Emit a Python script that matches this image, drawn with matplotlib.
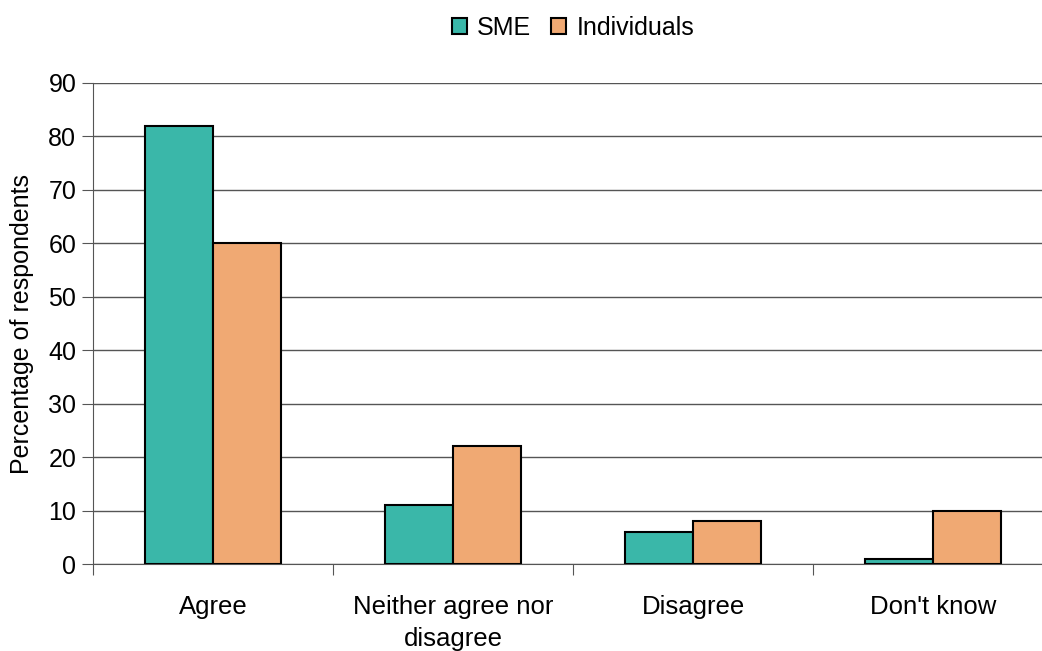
import matplotlib
matplotlib.use('Agg')
import matplotlib.pyplot as plt
import numpy as np

categories = ["Agree", "Neither agree nor\ndisagree", "Disagree", "Don't know"]
sme = [82, 11, 6, 1]
individuals = [60, 22, 8, 10]
yticks = [0, 10, 20, 30, 40, 50, 60, 70, 80, 90]

plt.rcParams['font.family'] = ['Liberation Sans', 'DejaVu Sans']

fig = plt.figure(figsize=(10.42, 6.51), dpi=100)
ax = fig.add_axes([93 / 1042, 87 / 651, 960 / 1042, 481 / 651])

x = np.arange(len(categories))
w = 0.283
ax.bar(x - w / 2, sme, w, color='#3AB7A9', edgecolor='black', linewidth=1.5, label='SME', zorder=3)
ax.bar(x + w / 2, individuals, w, color='#F0A973', edgecolor='black', linewidth=1.5, label='Individuals', zorder=3)

ax.set_xlim(-0.5, len(categories) - 0.5)
ax.set_ylim(0, 90)
ax.set_yticks(yticks)
ax.yaxis.grid(True, color='#555555', linewidth=1)
ax.set_axisbelow(True)

# category ticks sit at the boundaries, labels in the middle
ax.set_xticks(np.arange(len(categories) + 1) - 0.5)
ax.set_xticklabels([])
ax.set_xticks(x, minor=True)
ax.set_xticklabels(categories, minor=True, fontsize=18.5, linespacing=1.45)
ax.tick_params(axis='x', which='minor', length=0, pad=22)
ax.tick_params(axis='x', which='major', length=8, color='#555555', direction='out')
ax.tick_params(axis='y', length=8, color='#555555', labelsize=18, pad=4)

for s in ['top', 'right']:
    ax.spines[s].set_visible(False)
ax.spines['left'].set_color('#555555')
ax.spines['bottom'].set_color('#555555')

ax.set_ylabel('Percentage of respondents', fontsize=18, labelpad=10)

fig.legend(loc='upper center', bbox_to_anchor=(0.55, 1.01), ncol=2, frameon=False,
           fontsize=18, handlelength=0.6, handleheight=0.6, handletextpad=0.4, columnspacing=0.8)

fig.savefig('out.png', dpi=100)
